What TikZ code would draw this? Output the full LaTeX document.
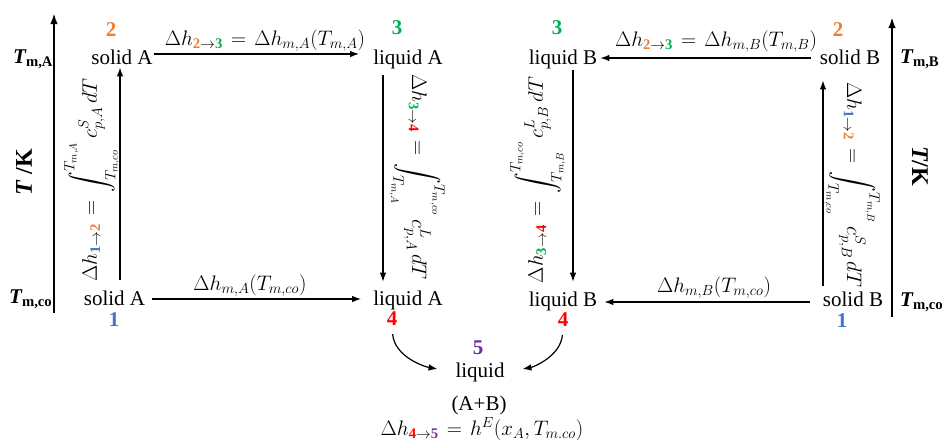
\RequirePackage{fix-cm}
\documentclass[tikz,border=0pt]{standalone}
\usepackage{amsmath}
\usepackage{fontspec}
\setmainfont{Liberation Serif}
\usetikzlibrary{arrows.meta}
\definecolor{cor}{HTML}{ED7D31}
\definecolor{cgr}{HTML}{00B050}
\definecolor{cbl}{HTML}{4472C4}
\definecolor{crd}{HTML}{FF0000}
\definecolor{cpu}{HTML}{7030A0}
\newcommand{\nA}{\textcolor{cbl}{\mathbf{1}}}
\newcommand{\nB}{\textcolor{cor}{\mathbf{2}}}
\newcommand{\nC}{\textcolor{cgr}{\mathbf{3}}}
\newcommand{\nD}{\textcolor{crd}{\mathbf{4}}}
\newcommand{\nE}{\textcolor{cpu}{\mathbf{5}}}
\newcommand{\axT}[1]{{\bfseries\itshape T}{\bfseries\textsubscript{#1}}}
\thickmuskip=7mu plus 3mu minus 1mu
\begin{document}
\begin{tikzpicture}[x=1pt,y=-1pt,
  every node/.style={font=\fontsize{21}{25}\selectfont, inner sep=1pt},
  arr/.style={-{Latex[length=9pt,width=6.5pt]}, line width=1.2pt},
  axis/.style={-{Latex[length=11pt,width=7.5pt]}, line width=2.4pt},
  num/.style={font=\fontsize{21}{25}\selectfont\bfseries},
  tk/.style={font=\fontsize{24}{28}\selectfont\bfseries}]
\useasboundingbox (0,0) rectangle (942,442);

% axes
\coordinate (axLb) at (54,313); \coordinate (axLt) at (54,13);
\coordinate (axRb) at (892,317); \coordinate (axRt) at (892,17);
\draw[axis] (axLb) -- (axLt);
\draw[axis] (axRb) -- (axRt);
\node[anchor=base west] (tma) at (12,63) {\axT{m,A}};
\node[anchor=base west] (tmcoL) at (8,303) {\axT{m,co}};
\node[anchor=base west] (tmb) at (899,63) {\axT{m,B}};
\node[anchor=base west] (tmcoR) at (899,306) {\axT{m,co}};
\node[tk,rotate=90] (tkL) at (24,172) {{\itshape T} /K};
\node[tk,rotate=-90] (tkR) at (920,166) {{\itshape T}/K};

% state nodes
\node[anchor=base] (sA2) at (122,64) {solid A};
\node[anchor=base] (sA1) at (114.5,305) {solid A};
\node[anchor=base] (lA3) at (408,64) {liquid A};
\node[anchor=base] (lA4) at (408,305) {liquid A};
\node[anchor=base] (lB3) at (563,64) {liquid B};
\node[anchor=base] (lB4) at (563,306) {liquid B};
\node[anchor=base] (sB2) at (850,64) {solid B};
\node[anchor=base] (sB1) at (853,306) {solid B};

% numbers
\node[num,text=cor] (n2a) at (111,30) {2};
\node[num,text=cbl] (n1a) at (114,320) {1};
\node[num,text=cgr] (n3a) at (397,28) {3};
\node[num,text=crd] (n4a) at (392,319) {4};
\node[num,text=cgr] (n3b) at (557,28) {3};
\node[num,text=crd] (n4b) at (563,320) {4};
\node[num,text=cor] (n2b) at (838,30) {2};
\node[num,text=cbl] (n1b) at (842,321) {1};

% horizontal arrows
\draw[arr, shorten >=13pt] ([yshift=10pt]sA2.base east) -- ([yshift=10pt]lA3.base west);
\draw[arr, shorten <=6pt, shorten >=11pt] ([yshift=6pt]sA1.base east) -- ([yshift=6pt]lA4.base west);
\draw[arr, shorten <=8pt, shorten >=2pt] ([yshift=6pt]sB2.base west) -- ([yshift=6pt]lB3.base east);
\draw[arr, shorten <=12pt, shorten >=6pt] ([yshift=4pt]sB1.base west) -- ([yshift=4pt]lB4.base east);

% vertical arrows
\draw[arr, shorten <=9pt, shorten >=2pt] ([xshift=5.5pt]sA1.north) -- ([xshift=-2pt]sA2.south);
\draw[arr, shorten <=5pt, shorten >=7.5pt] ([xshift=-25pt]lA3.south) -- ([xshift=-25pt]lA4.north);
\draw[arr, shorten >=8.5pt] ([xshift=10pt]lB3.south) -- ([xshift=10pt]lB4.north);
\draw[arr, shorten <=4.5pt, shorten >=15pt] ([xshift=-30pt]sB1.north) -- ([xshift=-27pt]sB2.south);

% horizontal labels
\node[anchor=base] (lt1) at (265,45) {$\Delta h_{\nB\to\nC} = \Delta h_{m,A}(T_{m,A})$};
\node[anchor=base] (lb1) at (250,290) {$\Delta h_{m,A}(T_{m,co})$};
\node[anchor=base] (lt2) at (716,46) {$\Delta h_{\nB\to\nC} = \Delta h_{m,B}(T_{m,B})$};
\node[anchor=base] (lb2) at (714,292) {$\Delta h_{m,B}(T_{m,co})$};

% rotated labels
\node[rotate=90] (v1) at (92,180) {$\Delta h_{\nA\to\nB} = \displaystyle\int_{T_{m,co}}^{T_{m,A}} c_{p,A}^{S}\,dT$};
\node[rotate=-90] (v2) at (417,177) {$\Delta h_{\nC\to\nD} = \displaystyle\int_{T_{m,A}}^{T_{m,co}} c_{p,A}^{L}\,dT$};
\node[rotate=90] (v3) at (538,180) {$\Delta h_{\nC\to\nD} = \displaystyle\int_{T_{m,B}}^{T_{m,co}} c_{p,B}^{L}\,dT$};
\node[rotate=-90] (v4) at (852,185) {$\Delta h_{\nA\to\nB} = \displaystyle\int_{T_{m,co}}^{T_{m,B}} c_{p,B}^{S}\,dT$};

% mixture
\node[num,text=cpu] (n5) at (478,348) {5};
\node[anchor=base] (liq) at (480,377) {liquid};
\node[anchor=base] (ab) at (479,410) {(A+B)};
\node[anchor=base] (eq) at (482,435) {$\Delta h_{\nD\to\nE} = h^{E}(x_A, T_{m.co})$};

\draw[arr, shorten <=7pt, shorten >=17pt] (n4a.south) to[out=-85,in=170] (liq.west);
\draw[arr, shorten <=7pt, shorten >=17pt] (n4b.south) to[out=-95,in=10] (liq.east);
\end{tikzpicture}
\end{document}
